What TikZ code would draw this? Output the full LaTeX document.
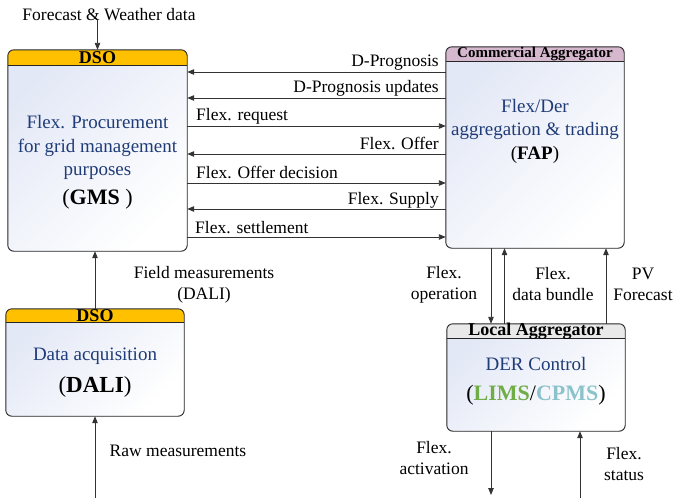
\documentclass[tikz,border=0pt]{standalone}
\usepackage{fontspec}
\setmainfont{Liberation Serif}
\usetikzlibrary{arrows.meta,calc}

\definecolor{dsoorange}{HTML}{FFC000}
\definecolor{camauve}{HTML}{D5B7CE}
\definecolor{lagray}{HTML}{E9E9E9}
\definecolor{navy}{HTML}{1F3C78}
\definecolor{boxtint}{HTML}{E3E8F6}
\definecolor{limsgreen}{HTML}{70AD47}
\definecolor{cpmsteal}{HTML}{8CC3CB}

% coloured header band of a block, clipped to its rounded outline
\newcommand\drawboxhead[3]{%
  \begin{scope}
    \clip[rounded corners=6pt] (#1.south west) rectangle (#1.north east);
    \fill[#2] (#1.north west) rectangle ([yshift=-#3]#1.north east);
  \end{scope}
  \draw[line width=0.9pt, black!85] ([yshift=-#3]#1.north west) -- ([yshift=-#3]#1.north east);
  \draw[frame] (#1.south west) rectangle (#1.north east);
}

\begin{document}
\begin{tikzpicture}[x=1pt, y=-1pt,
  blk/.style={shade, top color=boxtint, bottom color=white, shading angle=45,
              rounded corners=6pt, inner sep=0pt},
  frame/.style={draw=black!85, line width=0.9pt, rounded corners=6pt},
  link/.style={draw=black!80, line width=0.9pt, -{Triangle[length=7pt,width=5.5pt]}},
  lbl/.style={font=\fontsize{17.5}{21}\selectfont, inner sep=0pt},
  mlbl/.style={lbl, align=center},
  head/.style={font=\bfseries\fontsize{18}{18}\selectfont, inner sep=0pt},
  body/.style={text=navy, font=\fontsize{19}{23.5}\selectfont, align=center, inner sep=0pt},
  code/.style={font=\fontsize{22}{26}\selectfont, inner sep=0pt}
]
\useasboundingbox (0,0) rectangle (674,498);

% ---- blocks ----
\node[blk, minimum width=179pt, minimum height=201pt] (gms)  at (97.5,150.5) {};
\node[blk, minimum width=178pt, minimum height=201pt] (fap)  at (535,147.5) {};
\node[blk, minimum width=178pt, minimum height=107pt] (dali) at (95,362.5) {};
\node[blk, minimum width=178pt, minimum height=107pt] (la)   at (536,377.5) {};

\drawboxhead{gms}{dsoorange}{16pt}
\drawboxhead{fap}{camauve}{15pt}
\drawboxhead{dali}{dsoorange}{14pt}
\drawboxhead{la}{lagray}{15pt}

% ---- block headers ----
\node[head] (gmshead) at ([yshift=-8pt]gms.north) {DSO};
\node[head, font=\bfseries\fontsize{15}{15}\selectfont] (faphead) at ([yshift=-7.5pt]fap.north) {Commercial Aggregator};
\node[head] (dalihead) at ([yshift=-7pt]dali.north) {DSO};
\node[head] (lahead) at ([yshift=-7.5pt]la.north) {Local Aggregator};

% ---- block contents ----
\node[body] (gmstext) at (97.5,147.5) {Flex. Procurement\\for grid management\\purposes};
\node[code] (gmscode) at (97.5,199) {(\textbf{GMS} )};

\node[body] (faptext) at (535,131) {Flex/Der\\aggregation \& trading\\{\color{black}(\textbf{FAP})}};

\node[body] (dalitext) at (95,356.5) {Data acquisition};
\node[code, font=\fontsize{23}{26}\selectfont] (dalicode) at (95,386.5) {(\textbf{DALI})};

\node[body] (latext) at (536,364) {DER Control};
\node[code] (lacode) at (536,395) {(\textbf{\color{limsgreen}LIMS}/\textbf{\color{cpmsteal}CPMS})};

% ---- GMS <-> FAP exchanges ----
\coordinate (y1) at (0,72);
\coordinate (y2) at (0,98);
\coordinate (y3) at (0,126);
\coordinate (y4) at (0,154);
\coordinate (y5) at (0,183);
\coordinate (y6) at (0,209);
\coordinate (y7) at (0,237);

\draw[link] (fap.west |- y1) -- (gms.east |- y1);
\draw[link] (fap.west |- y2) -- (gms.east |- y2);
\draw[link] (gms.east |- y3) -- (fap.west |- y3);
\draw[link] (fap.west |- y4) -- (gms.east |- y4);
\draw[link] (gms.east |- y5) -- (fap.west |- y5);
\draw[link] (fap.west |- y6) -- (gms.east |- y6);
\draw[link] (gms.east |- y7) -- (fap.west |- y7);

\node[lbl, anchor=base east] (l1) at (439,66) {D-Prognosis};
\node[lbl, anchor=base east] (l2) at (439,92.5) {D-Prognosis updates};
\node[lbl, anchor=base west] (l3) at (196,120) {Flex. request};
\node[lbl, anchor=base east] (l4) at (439,149.5) {Flex. Offer};
\node[lbl, anchor=base west] (l5) at (196,178) {Flex. Offer decision};
\node[lbl, anchor=base east] (l6) at (439,204) {Flex. Supply};
\node[lbl, anchor=base west] (l7) at (195,233) {Flex. settlement};

% ---- DSO side inputs ----
\node[lbl, anchor=base] (fcst) at (109,20) {Forecast \& Weather data};
\draw[link] (gms.north |- fcst.south) -- (gms.north);

\draw[link] (dali.north) -- (dali.north |- gms.south);
\node[mlbl] (fieldlbl) at (204,285) {Field measurements\\(DALI)};

\coordinate (rawin) at (95,498);
\draw[link] (rawin) -- (dali.south);
\node[lbl, anchor=base] (rawlbl) at (178,456.5) {Raw measurements};

% ---- FAP <-> Local Aggregator ----
\coordinate (xop) at (491,0);
\coordinate (xdb) at (504.5,0);
\coordinate (xpv) at (606,0);
\draw[link] (fap.south -| xop) -- (la.north -| xop);
\draw[link] (la.north -| xdb) -- (fap.south -| xdb);
\draw[link] (la.north -| xpv) -- (fap.south -| xpv);

\node[mlbl] (oplbl) at (444,284.5) {Flex.\\operation};
\node[mlbl] (dblbl) at (553,284.5) {Flex.\\data bundle};
\node[mlbl] (pvlbl) at (643,284.5) {PV\\Forecast};

% ---- Local Aggregator field side ----
\coordinate (actout) at (491,495);
\coordinate (statin) at (580,498);
\draw[link] (la.south -| actout) -- (actout);
\draw[link] (statin) -- (la.south -| statin);

\node[mlbl] (actlbl) at (434,458.5) {Flex.\\activation};
\node[mlbl] (statlbl) at (624,464) {Flex.\\status};
\end{tikzpicture}
\end{document}
